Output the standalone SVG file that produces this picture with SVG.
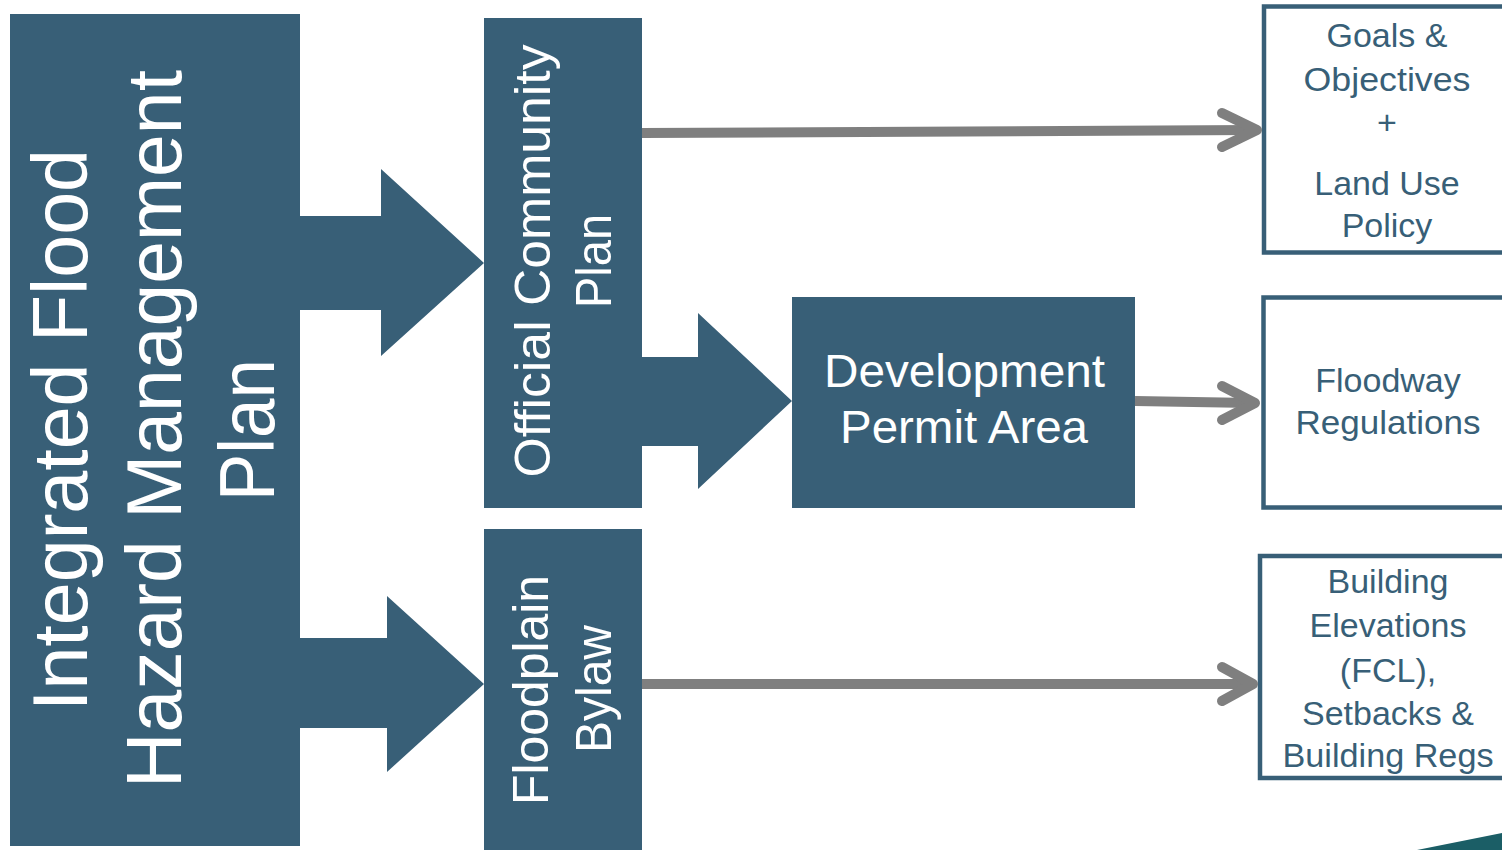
<svg xmlns="http://www.w3.org/2000/svg" width="1502" height="850" viewBox="0 0 1502 850">
<style>
.blk{fill:#385f77}
.wt{fill:#ffffff;font-family:"Liberation Sans",Arial,sans-serif;text-anchor:middle}
.box{fill:#ffffff;stroke:#385f77;stroke-width:4.5}
.bt{fill:#385f77;font-family:"Liberation Sans",Arial,sans-serif;font-size:34px;text-anchor:middle}
.con{fill:none;stroke:#7f7f7f;stroke-width:10;stroke-linecap:butt}
.head{fill:none;stroke:#7f7f7f;stroke-width:10;stroke-linecap:round;stroke-linejoin:round}
</style>
<rect width="1502" height="850" fill="#ffffff"/>
<g id="ifhmp">
<rect class="blk" x="10" y="14" width="290" height="832"/>
<text class="wt" font-size="77" transform="translate(87,430) rotate(-90)" textLength="562" lengthAdjust="spacingAndGlyphs">Integrated Flood</text>
<text class="wt" font-size="77" transform="translate(181,429) rotate(-90)" textLength="718" lengthAdjust="spacingAndGlyphs">Hazard Management</text>
<text class="wt" font-size="77" transform="translate(274,430) rotate(-90)" textLength="142" lengthAdjust="spacingAndGlyphs">Plan</text>
</g>
<g id="arrow-ocp">
<polygon class="blk" points="300,216 381,216 381,169 484,263 381,356 381,310 300,310"/>
</g>
<g id="arrow-bylaw">
<polygon class="blk" points="300,638 387,638 387,596 484,684 387,772 387,728 300,728"/>
</g>
<g id="ocp">
<rect class="blk" x="484" y="18" width="158" height="490"/>
<text class="wt" font-size="50" transform="translate(550,261) rotate(-90)" textLength="433" lengthAdjust="spacingAndGlyphs">Official Community</text>
<text class="wt" font-size="50" transform="translate(611,261) rotate(-90)" textLength="94" lengthAdjust="spacingAndGlyphs">Plan</text>
</g>
<g id="bylaw">
<rect class="blk" x="484" y="529" width="158" height="321"/>
<text class="wt" font-size="50" transform="translate(548,690) rotate(-90)" textLength="230" lengthAdjust="spacingAndGlyphs">Floodplain</text>
<text class="wt" font-size="50" transform="translate(611,689) rotate(-90)" textLength="128" lengthAdjust="spacingAndGlyphs">Bylaw</text>
</g>
<g id="arrow-dpa">
<polygon class="blk" points="642,357 698,357 698,313 792,401 698,489 698,446 642,446"/>
</g>
<g id="dpa">
<rect class="blk" x="792" y="297" width="343" height="211"/>
<text class="wt" font-size="46" x="964.5" y="387" textLength="281" lengthAdjust="spacingAndGlyphs">Development</text>
<text class="wt" font-size="46" x="964" y="443" textLength="248" lengthAdjust="spacingAndGlyphs">Permit Area</text>
</g>
<g id="goals">
<rect class="box" x="1264" y="6.5" width="260" height="246"/>
<text class="bt" x="1387" y="47">Goals &amp;</text>
<text class="bt" x="1387" y="91" textLength="167" lengthAdjust="spacingAndGlyphs">Objectives</text>
<text class="bt" x="1387" y="134">+</text>
<text class="bt" x="1387" y="195">Land Use</text>
<text class="bt" x="1387" y="237">Policy</text>
</g>
<g id="floodway">
<rect class="box" x="1263.5" y="297.5" width="260" height="210"/>
<text class="bt" x="1388" y="392">Floodway</text>
<text class="bt" x="1388" y="434" textLength="185" lengthAdjust="spacingAndGlyphs">Regulations</text>
</g>
<g id="building">
<rect class="box" x="1260" y="556" width="260" height="222"/>
<text class="bt" x="1388" y="593">Building</text>
<text class="bt" x="1388" y="637">Elevations</text>
<text class="bt" x="1388" y="682">(FCL),</text>
<text class="bt" x="1388" y="725">Setbacks &amp;</text>
<text class="bt" x="1388" y="767" textLength="211" lengthAdjust="spacingAndGlyphs">Building Regs</text>
</g>
<g id="connectors">
<path class="con" d="M642,133 L1254,130"/>
<path class="head" d="M1222,113 L1257,130 L1222,147"/>
<path class="con" d="M1135,401 L1252,403"/>
<path class="head" d="M1222,386 L1255,403 L1222,420"/>
<path class="con" d="M642,684 L1250,684"/>
<path class="head" d="M1222,667 L1253,684 L1222,701"/>
</g>
<polygon points="1417,850 1502,833 1502,850" fill="#1b5e66"/>
</svg>
